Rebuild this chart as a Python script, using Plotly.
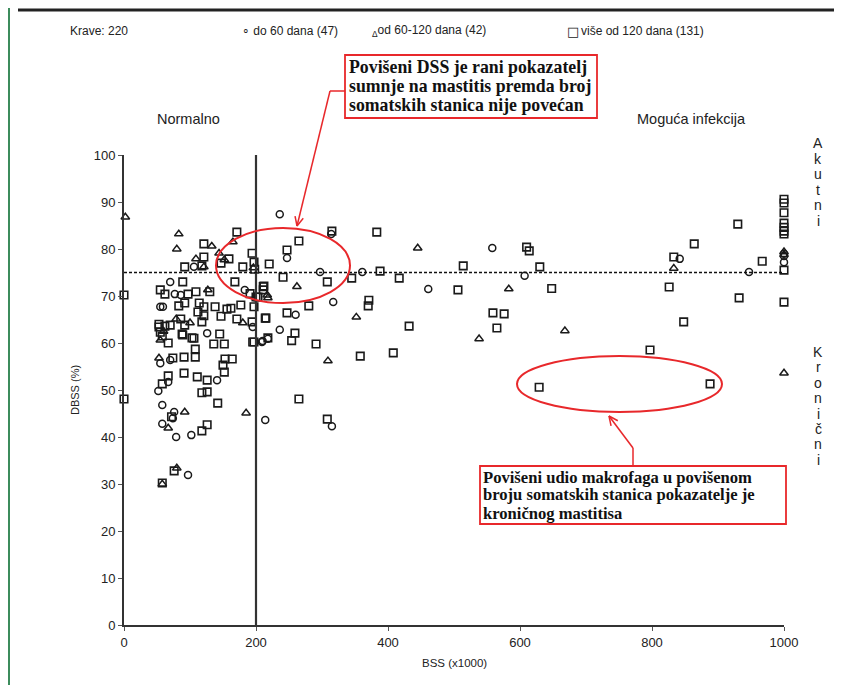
import math
import plotly.graph_objects as go

# ---------------- data ----------------
# do 60 dana (circles)
c_x = [236, 247, 297, 314, 361, 260, 317, 236, 210, 195, 214, 315, 558, 607, 461, 842, 947,
       106, 70, 77, 86, 183, 55, 59, 126, 209, 218, 55, 70, 141, 67, 52, 58, 76, 74, 58, 79,
       102, 97, 1000, 1000, 1000]
c_y = [87.4, 78.1, 75.1, 83.2, 75.1, 66.0, 68.7, 62.8, 60.4, 63.4, 43.6, 42.3, 80.2, 74.3, 71.5, 77.9, 75.1,
       76.2, 73.0, 70.4, 70.2, 71.3, 67.7, 67.7, 62.1, 60.2, 60.9, 55.7, 56.4, 52.1, 51.7, 49.8, 46.8, 45.3, 44.0, 42.8, 40.0,
       40.4, 31.9, 78.5, 77.2, 79.0]

# od 60-120 dana (triangles)
t_x = [2, 83, 80, 133, 165, 109, 144, 152, 121, 127, 217, 218, 262, 352, 309, 445, 583, 538, 833, 668,
       1000, 1000, 1000, 180, 79, 100, 53, 92, 185, 67, 80, 58, 55, 196, 60]
t_y = [86.8, 83.2, 80.0, 80.6, 81.5, 77.9, 79.1, 77.7, 76.2, 71.3, 70.2, 69.6, 72.0, 65.5, 56.2, 80.2, 71.5, 60.9, 75.9, 62.6,
       53.6, 79.4, 78.8, 64.3, 65.1, 64.3, 56.8, 45.3, 45.1, 41.9, 33.4, 30.0, 60.6, 76.0, 62.5]

# više od 120 dana (squares)
s_x = [265, 247, 220, 241, 308, 315, 383, 345, 388, 417, 211, 211, 203, 214, 247, 280, 371, 370, 259, 218,
       291, 358, 408, 265, 308, 610, 614, 514, 630, 506, 559, 576, 565, 432, 629, 648, 930, 864, 833, 967,
       1000, 1000, 1000, 1000, 1000, 1000, 1000, 1000, 1000, 932, 826, 848, 797, 888,
       0, 0, 121, 171, 121, 159, 92, 118, 147, 194, 197, 180, 198, 89, 168, 55, 62, 97, 109, 130,
       191, 212, 200, 83, 92, 114, 121, 112, 121, 138, 156, 162, 177, 197, 147, 215, 171, 194, 53, 53,
       62, 70, 86, 92, 118, 55, 58, 88, 103, 145, 136, 152, 195, 67, 108, 108, 91, 74, 153, 164,
       150, 152, 91, 111, 126, 67, 58, 118, 126, 142, 72, 118, 126, 76, 58, 89, 106, 197, 254]
s_y = [81.7, 79.8, 76.8, 74.0, 73.0, 83.8, 83.6, 73.8, 75.3, 73.8, 72.0, 71.3, 69.8, 65.3, 66.4, 67.9, 69.1, 67.9, 62.1, 61.1,
       59.8, 57.2, 57.9, 48.1, 43.8, 80.4, 79.6, 76.4, 76.2, 71.3, 66.4, 66.2, 63.2, 63.6, 50.6, 71.6, 85.3, 81.1, 78.3, 77.4,
       75.5, 90.6, 89.8, 87.7, 85.5, 84.6, 83.8, 83.2, 68.7, 69.6, 71.9, 64.5, 58.5, 51.3,
       70.2, 48.1, 81.1, 83.6, 78.3, 77.9, 76.2, 76.4, 77.0, 79.1, 77.2, 76.2, 75.7, 73.0, 73.0, 71.3, 70.4, 70.4, 70.9, 70.9,
       70.5, 72.1, 69.8, 67.9, 68.5, 68.5, 67.7, 66.6, 65.8, 67.7, 67.2, 67.4, 68.1, 67.7, 65.7, 65.3, 65.1, 64.5, 64.0, 63.4,
       63.6, 63.8, 65.1, 63.8, 64.5, 62.3, 61.5, 61.9, 61.1, 61.9, 59.8, 59.8, 60.2, 60.0, 58.7, 57.0, 57.0, 56.8, 56.6, 56.6,
       55.3, 53.8, 53.6, 52.8, 52.1, 53.0, 51.3, 49.4, 49.6, 47.2, 44.3, 41.3, 42.6, 32.8, 30.2, 61.7, 61.0, 60.2, 60.5]

x_ticks = [0, 200, 400, 600, 800, 1000]
y_ticks = [0, 10, 20, 30, 40, 50, 60, 70, 80, 90, 100]

# ---------------- geometry helpers (screen pixels -> paper) ----------------
OFF = 8  # page body margin
L, R, T, B = 124, 784, 155, 625  # plot area on screen
W, H = R - L, B - T
FW, FH = 847, 685


def px(x):
    return (x - L) / W


def py(y):
    return (B - y) / H


MK = "#1a1a1a"
RED = "#e8282b"

fig = go.Figure()
fig.add_trace(go.Scatter(x=s_x, y=s_y, mode="markers", cliponaxis=False, name="više od 120 dana",
                         marker=dict(symbol="square-open", size=7.5, color=MK, line=dict(width=1.6, color=MK))))
fig.add_trace(go.Scatter(x=t_x, y=t_y, mode="markers", cliponaxis=False, name="od 60-120 dana",
                         marker=dict(symbol="triangle-up-open", size=7.5, color=MK, line=dict(width=1.5, color=MK))))
fig.add_trace(go.Scatter(x=c_x, y=c_y, mode="markers", cliponaxis=False, name="do 60 dana",
                         marker=dict(symbol="circle-open", size=7, color=MK, line=dict(width=1.5, color=MK))))

axis_common = dict(showline=True, linewidth=2, linecolor="#333", ticks="outside", ticklen=4, tickwidth=1.2,
                   tickcolor="#555", showgrid=False, zeroline=False, mirror=False,
                   tickfont=dict(family="Liberation Sans, Arial", size=13, color="#222"))

fig.update_layout(
    width=FW, height=FH,
    margin=dict(l=L - OFF, r=FW - (R - OFF), t=T - OFF, b=FH - (B - OFF)),
    paper_bgcolor="white", plot_bgcolor="white",
    showlegend=False,
    xaxis=dict(range=[0, 1000], tickvals=x_ticks, **axis_common),
    yaxis=dict(range=[0, 100], tickvals=y_ticks, **axis_common),
)

# reference lines
fig.add_shape(type="line", x0=200, x1=200, y0=0, y1=100, xref="x", yref="y",
              line=dict(color="#333", width=2.2))
fig.add_shape(type="line", x0=0, x1=1000, y0=75, y1=75, xref="x", yref="y",
              line=dict(color="#111", width=1.4, dash="3px,2px"))

# frame decoration
fig.add_shape(type="line", xref="paper", yref="paper", x0=px(18), x1=px(834), y0=py(10), y1=py(10),
              line=dict(color="#222", width=3))
fig.add_shape(type="line", xref="paper", yref="paper", x0=px(9), x1=px(9), y0=py(8), y1=py(692),
              line=dict(color="#3c8c5c", width=2))

# red ellipses
fig.add_shape(type="circle", xref="x", yref="y", x0=(216 - L) / 0.66, x1=(350 - L) / 0.66,
              y0=(B - 303) / 4.7, y1=(B - 228) / 4.7, line=dict(color=RED, width=2))
fig.add_shape(type="circle", xref="x", yref="y", x0=(517 - L) / 0.66, x1=(722 - L) / 0.66,
              y0=(B - 412) / 4.7, y1=(B - 356) / 4.7, line=dict(color=RED, width=2))

# red boxes
fig.add_shape(type="rect", xref="paper", yref="paper", x0=px(345), x1=px(597), y0=py(118), y1=py(55),
              line=dict(color=RED, width=1.8), fillcolor="white", layer="above")
fig.add_shape(type="rect", xref="paper", yref="paper", x0=px(480), x1=px(786), y0=py(524), y1=py(466),
              line=dict(color=RED, width=1.8), fillcolor="white", layer="above")


def seg(x0, y0, x1, y1):
    fig.add_shape(type="line", xref="paper", yref="paper", x0=px(x0), x1=px(x1), y0=py(y0), y1=py(y1),
                  line=dict(color=RED, width=1.5))


def arrow(tx, ty, hx, hy, size=10, ang=25):
    seg(tx, ty, hx, hy)
    d = math.hypot(hx - tx, hy - ty)
    ux, uy = (tx - hx) / d, (ty - hy) / d
    for s in (-1, 1):
        a = math.radians(ang * s)
        rx = ux * math.cos(a) - uy * math.sin(a)
        ry = ux * math.sin(a) + uy * math.cos(a)
        seg(hx, hy, hx + rx * size, hy + ry * size)


# connectors
seg(345, 91, 330, 91)
arrow(330, 91, 297, 226)
seg(633, 466, 633, 448)
arrow(633, 448, 609, 416)


def text(x, y, t, font, xanchor="center", angle=0):
    fig.add_annotation(xref="paper", yref="paper", x=px(x), y=py(y), text=t, showarrow=False,
                       xanchor=xanchor, yanchor="middle", textangle=angle, font=font,
                       borderpad=0)


serif1 = dict(family="Liberation Serif, Times New Roman", size=17.8, color="#111")
serif2 = dict(family="Liberation Serif, Times New Roman", size=16.6, color="#111")
box1 = ["<b>Povišeni DSS je rani pokazatelj</b>", "<b>sumnje na mastitis premda broj</b>",
        "<b>somatskih stanica nije povećan</b>"]
for i, t in enumerate(box1):
    text(348, 67 + 19 * i, t, serif1, "left")
box2 = ["<b>Povišeni udio makrofaga u povišenom</b>", "<b>broju somatskih stanica pokazatelje je</b>",
        "<b>kroničnog mastitisa</b>"]
for i, t in enumerate(box2):
    text(482, 477 + 18 * i, t, serif2, "left")

sans = "Liberation Sans, Arial"
hdr = dict(family=sans, size=12, color="#222")
# header
text(69, 31, "Krave: 220", hdr, "left")
text(241, 31, "∘ do 60 dana (47)", hdr, "left")
text(371, 31, "<sub>Δ</sub>od 60-120 dana (42)", hdr, "left")
text(566, 32, "□", dict(family="DejaVu Sans", size=13, color="#222"), "left")
text(580, 31, "više od 120 dana (131)", hdr, "left")

# region labels
text(188, 119, "Normalno", dict(family=sans, size=14.5, color="#222"))
text(691, 119, "Moguća infekcija", dict(family=sans, size=14.5, color="#222"))

for i, ch in enumerate("Akutni"):
    text(818, 143 + 15.6 * i, ch, dict(family=sans, size=14, color="#222"))
for i, ch in enumerate("Kronični"):
    text(818, 352 + 15.4 * i, ch, dict(family=sans, size=14, color="#222"))

# axis titles
text(75, 390, "DBSS (%)", dict(family=sans, size=11, color="#222"), angle=-90)
text(454, 663, "BSS (x1000)", dict(family=sans, size=11.5, color="#222"))

fig.write_html("out.html")
